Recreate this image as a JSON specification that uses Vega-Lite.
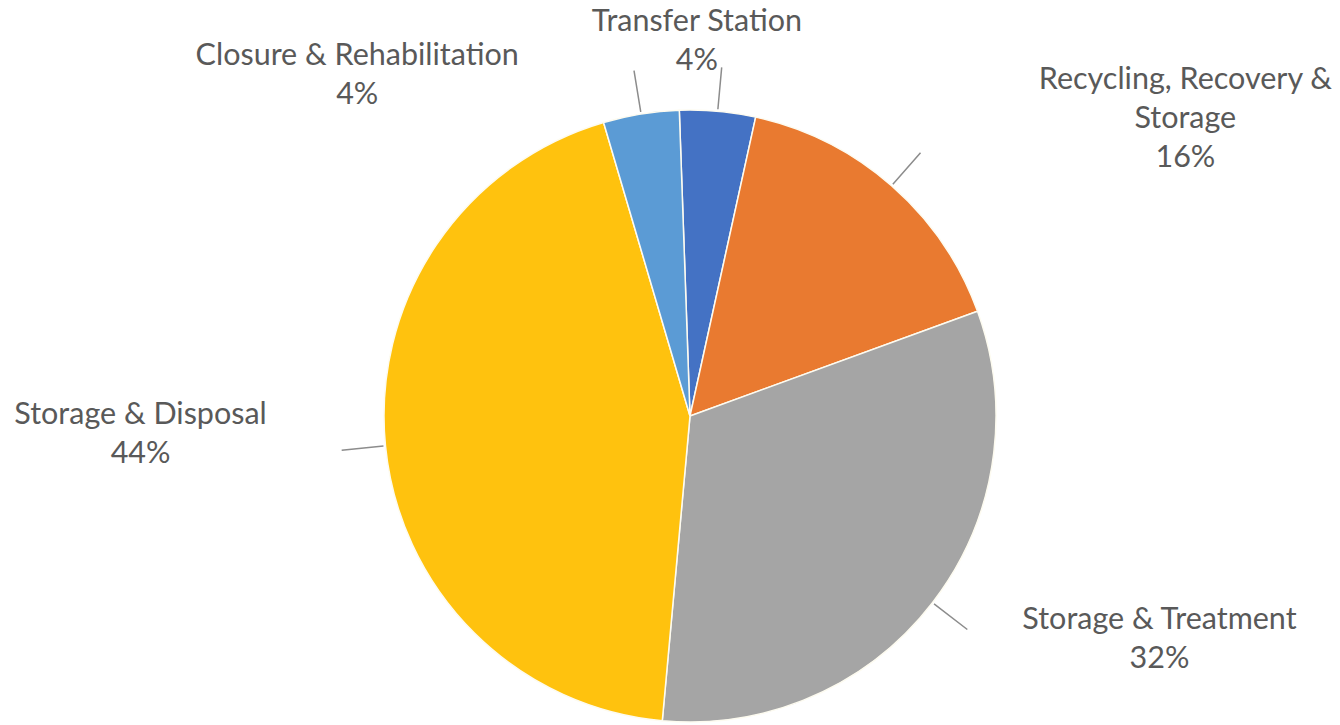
{
  "$schema": "https://vega.github.io/schema/vega-lite/v6.json",
  "width": 1300,
  "height": 618,
  "autosize": {"type": "none"},
  "padding": {"left": 40, "top": 107, "right": 0, "bottom": 0},
  "background": "white",
  "config": {"view": {"stroke": null}},
  "data": {
    "values": [
      {"category": "Transfer Station", "value": 4},
      {"category": "Recycling, Recovery & Storage", "value": 16},
      {"category": "Storage & Treatment", "value": 32},
      {"category": "Storage & Disposal", "value": 44},
      {"category": "Closure & Rehabilitation", "value": 4}
    ]
  },
  "transform": [
    {"stack": "value", "groupby": [], "as": ["v0", "v1"]},
    {"calculate": "(datum.v0 + datum.v1) / 2", "as": "mid"},
    {"calculate": "datum.category === 'Recycling, Recovery & Storage' ? 'Recycling, Recovery &\\nStorage\\n' + datum.value + '%' : datum.category + '\\n' + datum.value + '%'", "as": "label"}
  ],
  "layer": [
    {
      "mark": {"type": "arc", "outerRadius": 306, "stroke": "#fdfbf0", "strokeWidth": 1.5},
      "encoding": {
        "theta": {"field": "v0", "type": "quantitative", "scale": {"domain": [0, 100], "range": [-0.035, 6.2482]}},
        "theta2": {"field": "v1"},
        "color": {
          "field": "category",
          "type": "nominal",
          "scale": {
            "domain": ["Transfer Station", "Recycling, Recovery & Storage", "Storage & Treatment", "Storage & Disposal", "Closure & Rehabilitation"],
            "range": ["#4472C4", "#E97A30", "#A5A5A5", "#FFC20E", "#5B9BD5"]
          },
          "legend": null
        }
      }
    },
    {
      "mark": {"type": "arc", "filled": false, "innerRadius": 308, "outerRadius": 350, "stroke": "#8c8c8c", "strokeWidth": 1.5},
      "encoding": {
        "theta": {"field": "mid", "type": "quantitative", "scale": {"domain": [0, 100], "range": [-0.035, 6.2482]}},
        "theta2": {"field": "mid"}
      }
    },
    {
      "transform": [{"filter": "datum.category === 'Transfer Station'"}],
      "mark": {"type": "text", "dx": -23, "dy": -65, "align": "center", "baseline": "middle", "lineBreak": "\n", "lineHeight": 39, "font": "Lato", "fontSize": 30.5, "fill": "#595959"},
      "encoding": {
        "theta": {"field": "mid", "type": "quantitative", "scale": {"domain": [0, 100], "range": [-0.035, 6.2482]}},
        "radius": {"value": 330},
        "text": {"field": "label"}
      }
    },
    {
      "transform": [{"filter": "datum.category === 'Closure & Rehabilitation'"}],
      "mark": {"type": "text", "dx": -280, "dy": -34, "align": "center", "baseline": "middle", "lineBreak": "\n", "lineHeight": 39, "font": "Lato", "fontSize": 30.5, "fill": "#595959"},
      "encoding": {
        "theta": {"field": "mid", "type": "quantitative", "scale": {"domain": [0, 100], "range": [-0.035, 6.2482]}},
        "radius": {"value": 330},
        "text": {"field": "label"}
      }
    },
    {
      "transform": [{"filter": "datum.category === 'Recycling, Recovery & Storage'"}],
      "mark": {"type": "text", "dx": 278, "dy": -88, "align": "center", "baseline": "middle", "lineBreak": "\n", "lineHeight": 39, "font": "Lato", "fontSize": 30.5, "fill": "#595959"},
      "encoding": {
        "theta": {"field": "mid", "type": "quantitative", "scale": {"domain": [0, 100], "range": [-0.035, 6.2482]}},
        "radius": {"value": 330},
        "text": {"field": "label"}
      }
    },
    {
      "transform": [{"filter": "datum.category === 'Storage & Treatment'"}],
      "mark": {"type": "text", "dx": 208, "dy": 3, "align": "center", "baseline": "middle", "lineBreak": "\n", "lineHeight": 39, "font": "Lato", "fontSize": 30.5, "fill": "#595959"},
      "encoding": {
        "theta": {"field": "mid", "type": "quantitative", "scale": {"domain": [0, 100], "range": [-0.035, 6.2482]}},
        "radius": {"value": 330},
        "text": {"field": "label"}
      }
    },
    {
      "transform": [{"filter": "datum.category === 'Storage & Disposal'"}],
      "mark": {"type": "text", "dx": -221, "dy": -33, "align": "center", "baseline": "middle", "lineBreak": "\n", "lineHeight": 39, "font": "Lato", "fontSize": 30.5, "fill": "#595959"},
      "encoding": {
        "theta": {"field": "mid", "type": "quantitative", "scale": {"domain": [0, 100], "range": [-0.035, 6.2482]}},
        "radius": {"value": 330},
        "text": {"field": "label"}
      }
    }
  ]
}
